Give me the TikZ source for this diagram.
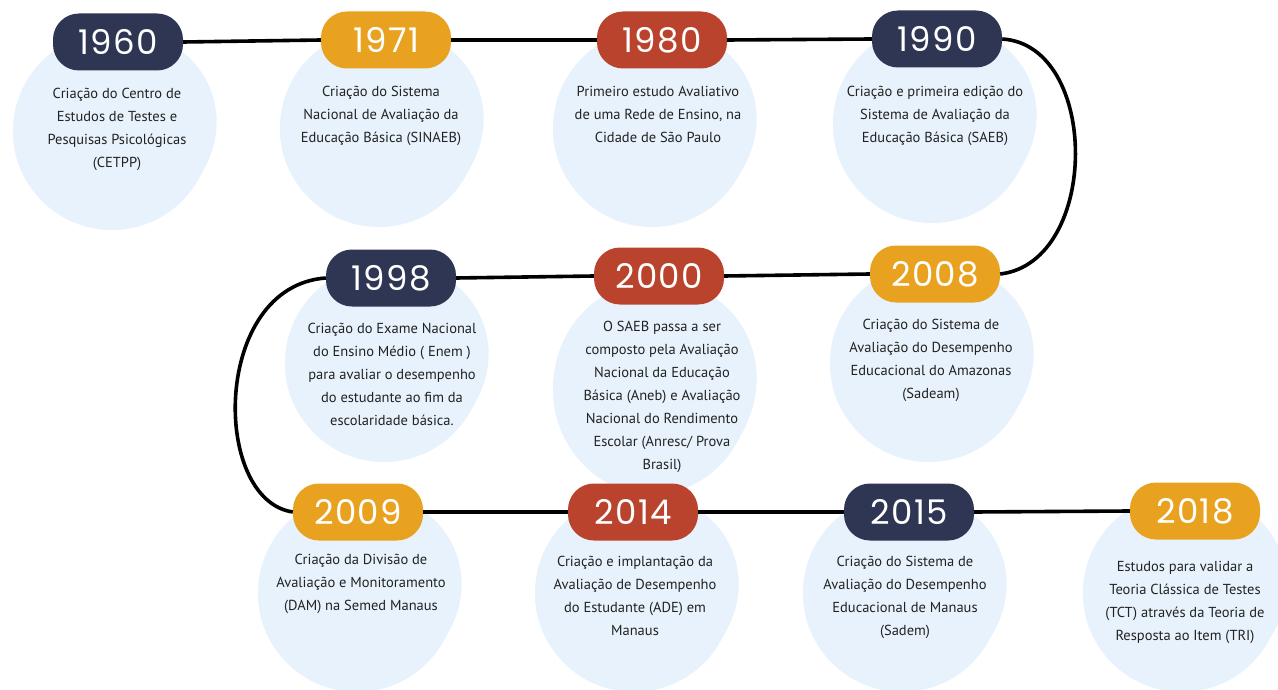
\documentclass[tikz,border=0pt]{standalone}
\usepackage{fontspec}
\setmainfont{PT Sans}
\newfontfamily\yearfont[LetterSpace=4]{Poppins}
\definecolor{navy}{HTML}{2E3654}
\definecolor{amber}{HTML}{E9A21F}
\definecolor{brick}{HTML}{B9432D}
\definecolor{blobc}{HTML}{E8F2FC}
\definecolor{txt}{HTML}{222222}
\tikzset{
  pill/.style={rounded corners=26pt, minimum width=130pt, minimum height=57pt, inner sep=0pt,
    text=white, font=\yearfont\fontsize{34}{34}\selectfont},
  desc/.style={align=center, anchor=north, inner sep=0pt, text=txt,
    font=\fontsize{14.5}{23}\selectfont},
  tl/.style={line width=3.6pt, black},
}
\newcommand\myblob[3]{%
  \begin{scope}[shift={(#1,#2)}, yscale=#3]
  \fill[blobc, rotate=25] (0,0) ellipse [x radius=103, y radius=95];
  \fill[blobc] (-3,3) ellipse [x radius=99, y radius=99];
  \end{scope}}
\begin{document}
\begin{tikzpicture}[x=1pt, y=-1pt]
\useasboundingbox (0,0) rectangle (1278,690);
\fill[white] (0,0) rectangle (1278,690);
% blobs
\myblob{115}{128}{1}
\myblob{382}{125}{1}
\myblob{655}{125}{1}
\myblob{935}{121}{1}
\myblob{387}{360}{1}
\myblob{655}{385}{1.07}
\myblob{932}{360}{1}
\myblob{360}{590}{1}
\myblob{637}{590}{1}
\myblob{905}{590}{1}
\myblob{1185}{590}{1}
% year pills
\node[pill, fill=navy]  (y1960) at (118,42) {1960};
\node[pill, fill=amber] (y1971) at (386,40) {1971};
\node[pill, fill=brick] (y1980) at (662,40) {1980};
\node[pill, fill=navy]  (y1990) at (937,39) {1990};
\node[pill, fill=navy]  (y1998) at (391,278) {1998};
\node[pill, fill=brick] (y2000) at (659,276) {2000};
\node[pill, fill=amber] (y2008) at (935,274) {2008};
\node[pill, fill=amber] (y2009) at (358,512) {2009};
\node[pill, fill=brick] (y2014) at (633,512) {2014};
\node[pill, fill=navy]  (y2015) at (909,512) {2015};
\node[pill, fill=amber] (y2018) at (1195,511) {2018};
% connectors
\draw[tl] (y1960.east) -- (y1971.west);
\draw[tl] (y1971.east) -- (y1980.west);
\draw[tl] (y1980.east) -- (y1990.west);
\draw[tl] (y1990.east) .. controls +(98,6) and +(100,-12) .. (y2008.east);
\draw[tl] (y2008.west) -- (y2000.east);
\draw[tl] (y2000.west) -- (y1998.east);
\draw[tl] (y1998.west) .. controls +(-114,8) and +(-82,-12) .. (y2009.west);
\draw[tl] (y2009.east) -- (y2014.west);
\draw[tl] (y2014.east) -- (y2015.west);
\draw[tl] (y2015.east) -- (y2018.west);
% descriptions
\node[desc] (d1960) at (117,88) {Criação do Centro de\\Estudos de Testes e\\Pesquisas Psicológicas\\(CETPP)};
\node[desc] (d1971) at (381,86) {Criação do Sistema\\Nacional de Avaliação da\\Educação Básica (SINAEB)};
\node[desc] (d1980) at (658,86) {Primeiro estudo Avaliativo\\de uma Rede de Ensino, na\\Cidade de São Paulo};
\node[desc] (d1990) at (935,86) {Criação e primeira edição do\\Sistema de Avaliação da\\Educação Básica (SAEB)};
\node[desc] (d1998) at (392,323) {Criação do Exame Nacional\\do Ensino Médio ( Enem )\\para avaliar o desempenho\\do estudante ao fim da\\escolaridade básica.};
\node[desc] (d2000) at (662,321) {O SAEB passa a ser\\composto pela Avaliação\\Nacional da Educação\\Básica (Aneb) e Avaliação\\Nacional do Rendimento\\Escolar (Anresc/ Prova\\Brasil)};
\node[desc] (d2008) at (931,319) {Criação do Sistema de\\Avaliação do Desempenho\\Educacional do Amazonas\\(Sadeam)};
\node[desc] (d2009) at (361,554) {Criação da Divisão de\\Avaliação e Monitoramento\\(DAM) na Semed Manaus};
\node[desc] (d2014) at (635,556) {Criação e implantação da\\Avaliação de Desempenho\\do Estudante (ADE) em\\Manaus};
\node[desc] (d2015) at (905,556) {Criação do Sistema de\\Avaliação do Desempenho\\Educacional de Manaus\\(Sadem)};
\node[desc] (d2018) at (1185,561) {Estudos para validar a\\Teoria Clássica de Testes\\(TCT) através da Teoria de\\Resposta ao Item (TRI)};
\end{tikzpicture}
\end{document}
